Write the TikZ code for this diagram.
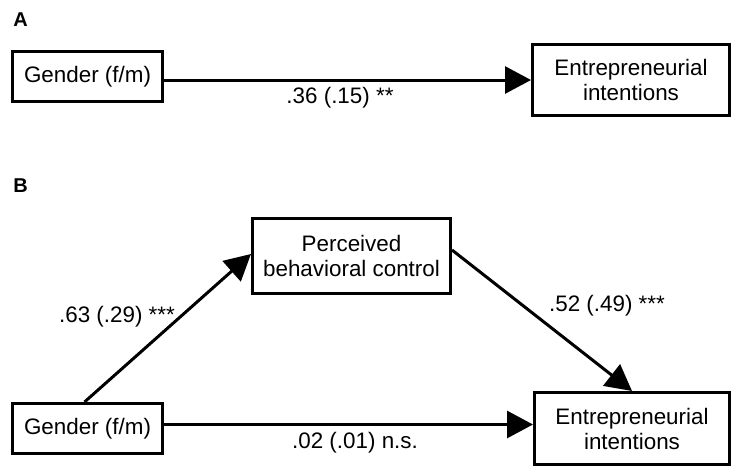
\documentclass[tikz,border=0pt]{standalone}
\usepackage{fontspec}
\setmainfont{Liberation Sans}
\usetikzlibrary{arrows.meta}
\begin{document}
\begin{tikzpicture}[x=1pt,y=-1pt,
  every node/.style={font=\fontsize{22.4}{25}\selectfont, inner sep=0pt},
  box/.style={draw, line width=3pt, rectangle, align=center},
  lbl/.style={},
  panel/.style={font=\fontsize{20}{24}\selectfont\bfseries, anchor=base},
  arr/.style={line width=3pt, -{Triangle[length=26pt,width=27pt]}}
]
\path[use as bounding box] (0,0) rectangle (733,472);
% Panel A
\node[panel] (pA) at (20.5,26) {A};
\node[box, minimum width=150pt, minimum height=50pt] (gA) at (87.5,76.5) {Gender (f/m)};
\node[box, minimum width=197pt, minimum height=71pt] (eA) at (631,80) {Entrepreneurial\\intentions};
\draw[arr] (gA.east |- eA.west) -- (eA.west);
\node[lbl] (lA) at (340,98) {.36 (.15) **};
% Panel B
\node[panel] (pB) at (20.5,192) {B};
\node[box, minimum width=198pt, minimum height=75pt] (pc) at (351.5,256) {Perceived\\behavioral control};
\node[box, minimum width=150pt, minimum height=50pt] (gB) at (87.5,428.5) {Gender (f/m)};
\node[box, minimum width=195pt, minimum height=72pt] (eB) at (632,428.5) {Entrepreneurial\\intentions};
\draw[arr] ([xshift=-3pt]gB.north) -- ([yshift=2pt]pc.west);
\draw[arr] ([yshift=6pt]pc.east) -- (eB.north);
\draw[arr] ([yshift=4pt]gB.east) -- ([yshift=4pt]eB.west);
\node[lbl] (l1) at (117,317) {.63 (.29) ***};
\node[lbl] (l2) at (607,306) {.52 (.49) ***};
\node[lbl] (l3) at (355,443) {.02 (.01) n.s.};
\end{tikzpicture}
\end{document}
